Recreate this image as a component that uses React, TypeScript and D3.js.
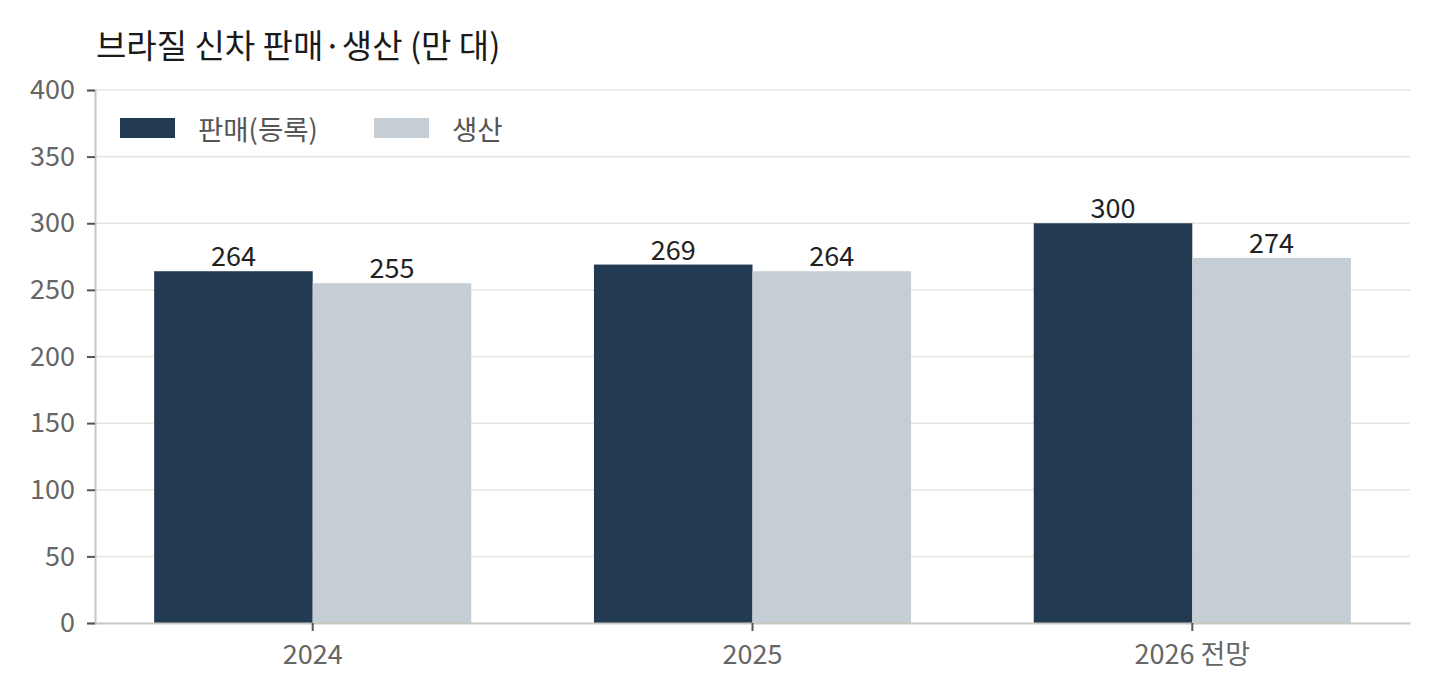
import { useRef, useEffect } from 'react';
import * as d3 from 'd3';

const years = ['2024', '2025', '2026 전망'];
const seriesKeys = ['판매(등록)', '생산'];
const sales = [264, 269, 300];
const production = [255, 264, 274];
const yTicks = [0, 50, 100, 150, 200, 250, 300, 350, 400];
const seriesColors = ['#223a52', '#c4ced4'];

const FONT = '"Noto Sans CJK KR", "Noto Sans", sans-serif';

export default function App() {
  const svgRef = useRef<SVGSVGElement>(null);

  useEffect(() => {
    if (!svgRef.current) return;

    const width = 1440;
    const height = 700;
    const margin = { top: 90, right: 30, bottom: 77, left: 95 };

    d3.select(svgRef.current).selectAll('*').remove();

    const svg = d3
      .select(svgRef.current)
      .attr('width', width)
      .attr('height', height)
      .style('font-family', FONT);

    const x0 = d3
      .scaleBand()
      .domain(years)
      .range([margin.left, width - margin.right])
      .paddingInner(0.279)
      .paddingOuter(0.1345);

    const x1 = d3.scaleBand().domain(seriesKeys).range([0, x0.bandwidth()]).padding(0);

    const y = d3
      .scaleLinear()
      .domain([0, 400])
      .range([height - margin.bottom, margin.top]);

    // Gridlines
    svg
      .append('g')
      .selectAll('line')
      .data(yTicks.filter((t) => t > 0))
      .join('line')
      .attr('x1', margin.left)
      .attr('x2', width - margin.right)
      .attr('y1', (d) => y(d))
      .attr('y2', (d) => y(d))
      .attr('stroke', '#e6e6e1')
      .attr('stroke-width', 1.5);

    // Bars
    const rows = years.map((yr, i) => ({ year: yr, values: [sales[i], production[i]] }));

    rows.forEach((row) => {
      const g = svg.append('g').attr('transform', `translate(${x0(row.year)},0)`);
      row.values.forEach((v, j) => {
        const key = seriesKeys[j];
        g.append('rect')
          .attr('x', x1(key)!)
          .attr('y', y(v))
          .attr('width', x1.bandwidth())
          .attr('height', y(0) - y(v))
          .attr('fill', seriesColors[j]);

        g.append('text')
          .attr('x', x1(key)! + x1.bandwidth() / 2)
          .attr('y', y(v) - 5)
          .attr('text-anchor', 'middle')
          .attr('fill', '#222')
          .attr('font-size', '27px')
          .text(v);
      });
    });

    // Y axis
    const yAxis = svg
      .append('g')
      .attr('transform', `translate(${margin.left},0)`)
      .call(d3.axisLeft(y).tickValues(yTicks).tickSize(8).tickPadding(12));
    yAxis.select('.domain').attr('stroke', '#c8c8c0').attr('stroke-width', 2);
    yAxis.selectAll('.tick line').attr('stroke', '#555').attr('stroke-width', 2);
    yAxis
      .selectAll('.tick text')
      .attr('fill', '#666')
      .attr('font-size', '27px')
      .attr('font-family', FONT);

    // X axis
    const xAxis = svg
      .append('g')
      .attr('transform', `translate(0,${y(0)})`)
      .call(d3.axisBottom(x0).tickSize(8).tickPadding(14).tickSizeOuter(0));
    xAxis.select('.domain').attr('stroke', '#c8c8c0').attr('stroke-width', 2);
    xAxis.selectAll('.tick line').attr('stroke', '#555').attr('stroke-width', 2);
    xAxis
      .selectAll('.tick text')
      .attr('fill', '#666')
      .attr('font-size', '27px')
      .attr('font-family', FONT);

    // Title
    svg
      .append('text')
      .attr('x', 96)
      .attr('y', 58)
      .attr('fill', '#1a1a1a')
      .attr('font-size', '33px')
      .text('브라질 신차 판매·생산 (만 대)');

    // Legend
    const legend = svg.append('g').attr('transform', 'translate(120,118)');
    seriesKeys.forEach((key, i) => {
      const item = legend.append('g').attr('transform', `translate(${i * 254},0)`);
      item.append('rect').attr('width', 55).attr('height', 20).attr('fill', seriesColors[i]);
      item
        .append('text')
        .attr('x', 78)
        .attr('y', 10)
        .attr('dominant-baseline', 'central')
        .attr('fill', '#555')
        .attr('font-size', '27.5px')
        .text(key);
    });
  }, []);

  return (
    <div style={{ position: 'absolute', left: 0, top: 0, background: '#fff' }}>
      <svg ref={svgRef} />
    </div>
  );
}
